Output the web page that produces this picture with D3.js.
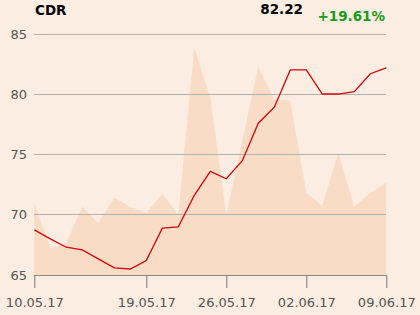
<!DOCTYPE html>
<html>
<head>
<meta charset="utf-8">
<script src="https://cdn.jsdelivr.net/npm/d3@7"></script>
<style>
html,body{margin:0;padding:0;background:#FBEDE1;}
svg{display:block;font-family:"DejaVu Sans",sans-serif;}
</style>
</head>
<body>
<svg id="chart" width="420" height="315"></svg>
<script>
const dates = ["10.05.17","11.05.17","12.05.17","15.05.17","16.05.17","17.05.17","18.05.17","19.05.17",
  "22.05.17","23.05.17","24.05.17","25.05.17","26.05.17","29.05.17","30.05.17","31.05.17","01.06.17",
  "02.06.17","05.06.17","06.06.17","07.06.17","08.06.17","09.06.17"];
const prices = [68.75, 68.0, 67.31, 67.09, 66.34, 65.59, 65.5, 66.2, 68.89, 69.0, 71.63, 73.62, 73.0,
  74.51, 77.62, 78.95, 82.05, 82.05, 80.05, 80.05, 80.25, 81.74, 82.22];
const volumes = [72, 27, 32, 68, 52, 77, 68, 62, 81, 60, 227, 177, 60, 134, 208, 175, 174, 82, 69, 122, 68, 82, 92];
const yTicks = [65, 70, 75, 80, 85];
const xTickLabels = ["10.05.17","19.05.17","26.05.17","02.06.17","09.06.17"];
const title = "CDR";
const lastValue = "82.22";
const change = "+19.61%";

(function () {
const svg = d3.select("#chart");
const mLeft = 34.3, mRight = 386.3, mTop = 34.5, mBottom = 275;

const x = d3.scalePoint().domain(dates).range([mLeft, mRight]);
const y = d3.scaleLinear().domain([65, 85]).range([mBottom, mTop]);
const yv = d3.scaleLinear().domain([0, 240]).range([mBottom, mTop]);

// volume area
const area = d3.area()
  .x((d, i) => x(dates[i]))
  .y0(mBottom)
  .y1(d => yv(d));
svg.append("path").datum(volumes).attr("d", area).attr("fill", "#F8DCC6");

// grid
svg.append("g").selectAll("line").data(yTicks.filter(t => t !== 65)).join("line")
  .attr("x1", mLeft).attr("x2", mRight)
  .attr("y1", d => y(d)).attr("y2", d => y(d))
  .attr("stroke", "#b3b1ad").attr("stroke-width", 1).attr("shape-rendering", "crispEdges");

// y axis labels
svg.append("g").selectAll("text").data(yTicks).join("text")
  .attr("x", 27).attr("y", d => y(d)).attr("dy", "0.35em")
  .attr("text-anchor", "end").attr("font-size", 13).attr("fill", "#555")
  .text(d => d);

// x axis
const xAxis = d3.axisBottom(x).tickValues(xTickLabels).tickSize(13).tickPadding(10);
const gx = svg.append("g").attr("transform", `translate(0,${mBottom})`).call(xAxis);
gx.select(".domain").attr("stroke", "#888").attr("d", `M${mLeft},0.5H${mRight}`);
gx.selectAll(".tick line").attr("stroke", "#777");
gx.selectAll(".tick text").attr("font-size", 13).attr("fill", "#555").attr("font-family", "DejaVu Sans");

// price line
const line = d3.line().x((d, i) => x(dates[i])).y(d => y(d));
svg.append("path").datum(prices).attr("d", line)
  .attr("fill", "none").attr("stroke", "#D7050A").attr("stroke-width", 1.3);

// header
svg.append("text").attr("x", 35).attr("y", 15).attr("font-size", 13.5).attr("font-weight", "bold")
  .attr("fill", "#000").text(title);
svg.append("text").attr("x", 303).attr("y", 14).attr("text-anchor", "end").attr("font-size", 13.5)
  .attr("font-weight", "bold").attr("fill", "#000").text(lastValue);
svg.append("text").attr("x", 385).attr("y", 21).attr("text-anchor", "end").attr("font-size", 13.5)
  .attr("font-weight", "bold").attr("fill", "#1a9a1a").text(change);
})();
</script>
</body>
</html>
